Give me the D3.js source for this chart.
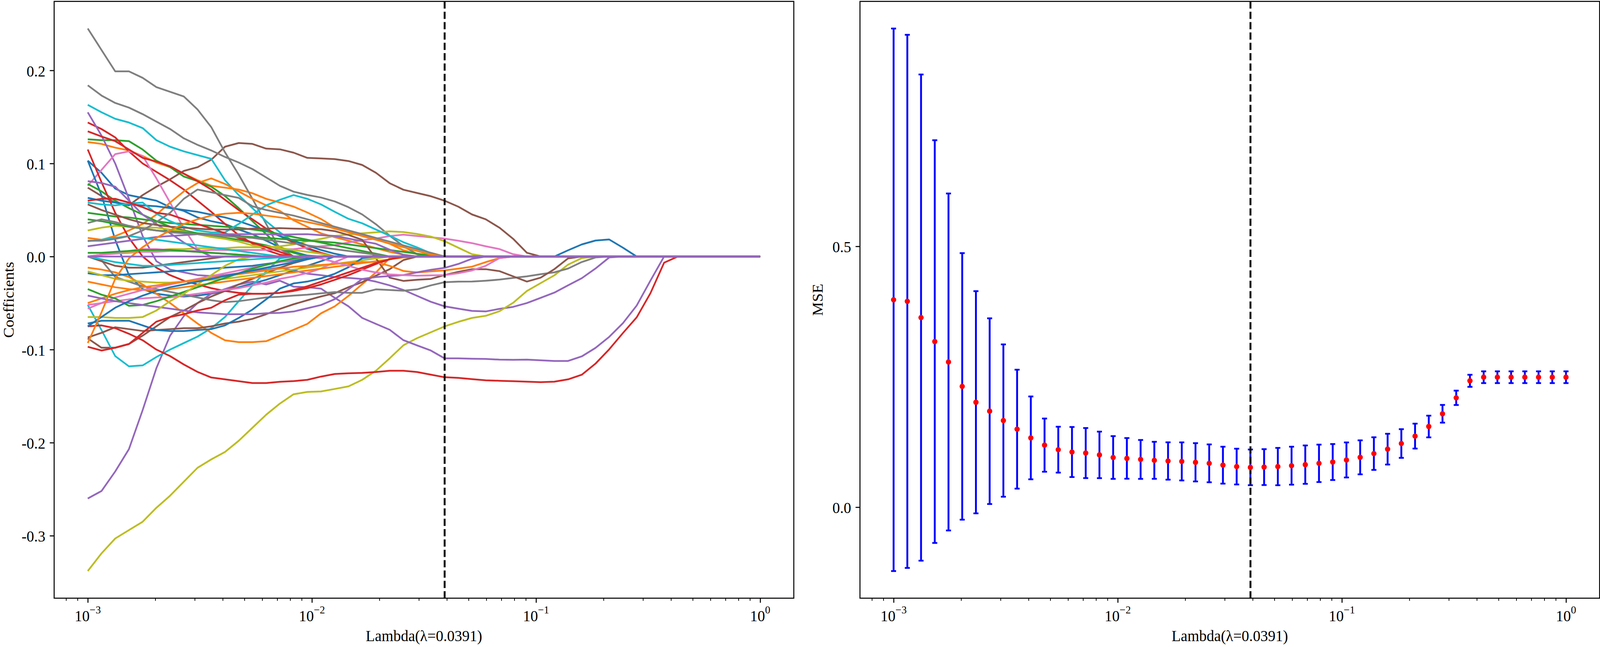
<!DOCTYPE html>
<html>
<head>
<meta charset="utf-8">
<script src="https://cdn.jsdelivr.net/npm/d3@7"></script>
<style>
  html, body { margin: 0; padding: 0; background: #fff; overflow: hidden; }
  svg { display: block; width: 100vw; height: 100vh; }
  text { font-family: "Liberation Serif", "Times New Roman", serif; fill: #000; }
</style>
</head>
<body>
<svg id="fig" viewBox="0 0 4255 1657" preserveAspectRatio="none"></svg>
<script>
// lambda grid used by the lasso path (50 log-spaced values)
const lambdas = [0.001, 0.0011514, 0.0013257, 0.0015264, 0.0017575, 0.0020236, 0.00233, 0.0026827, 0.0030888, 0.0035565,
  0.0040949, 0.0047149, 0.0054287, 0.0062506, 0.0071969, 0.0082864, 0.009541, 0.010985, 0.012649, 0.014563,
  0.016768, 0.019307, 0.02223, 0.025595, 0.029471, 0.033932, 0.039069, 0.044984, 0.051795, 0.059636,
  0.068665, 0.07906, 0.09103, 0.10481, 0.12068, 0.13895, 0.15999, 0.18421, 0.2121, 0.24421,
  0.28118, 0.32375, 0.37276, 0.42919, 0.49417, 0.56899, 0.65513, 0.75431, 0.86851, 1.0];
const lambdaBest = 0.0391;
const xLabelText = "Lambda(\u03bb=0.0391)";

// cross-validated MSE at each lambda, and half-length of its error bar
const mseMean = [0.3975, 0.3945, 0.3634, 0.3174, 0.2783, 0.2315, 0.2011, 0.184, 0.166, 0.1495,
  0.1328, 0.1189, 0.1102, 0.1057, 0.1037, 0.1002, 0.0952, 0.0935, 0.0915, 0.0898,
  0.0885, 0.0877, 0.086, 0.084, 0.0805, 0.0778, 0.0763, 0.0768, 0.0778, 0.0795,
  0.0815, 0.084, 0.0865, 0.0905, 0.0955, 0.1027, 0.1112, 0.122, 0.1362, 0.1546,
  0.179, 0.2096, 0.2422, 0.2491, 0.2491, 0.2491, 0.2491, 0.2491, 0.2491, 0.2491];
const mseStd = [0.520, 0.511, 0.466, 0.386, 0.323, 0.2555, 0.213, 0.178, 0.146, 0.114,
  0.0794, 0.051, 0.044, 0.048, 0.048, 0.0446, 0.041, 0.039, 0.0373, 0.0355,
  0.0358, 0.0365, 0.0367, 0.0363, 0.0354, 0.0343, 0.0342, 0.0344, 0.0358, 0.0364,
  0.0368, 0.0359, 0.0345, 0.0336, 0.0326, 0.0313, 0.0295, 0.0275, 0.0239, 0.0208,
  0.017, 0.0138, 0.0116, 0.0113, 0.0113, 0.0113, 0.0113, 0.0113, 0.0113, 0.0113];

// coefficient paths, in drawing order; values per lambda index, zero after the listed ones
const coefPaths = [
  [.103,.09,.073,.066,.063,.06,.053,.049,.042,.038,.035,.029,.024,.017,.01,.005,.001],
  [.123,.121,.117,.114,.108,.101,.096,.089,.082,.076,.074,.072,.068,.062,.058,.0536,.0473,.0403,.0312,.0277,.0235,.0186,.0137,.0067,.0025],
  [.126,.125,.125,.124,.115,.103,.096,.086,.081,.075,.065,.052,.038,.024,.01],
  [.144,.137,.128,.113,.1,.091,.082,.072,.06,.048,.035,.023,.014,.007,.002],
  [.155,.13,.1,.062,.022,-.005,-.014,-.017,-.02,-.021,-.02,-.018,-.016,-.014,-.012,-.015,-.0185,-.02,-.022,-.023,-.0241,-.027,-.031,-.0359,-.0423,-.0486,-.0535,-.056,-.0584,-.059,-.0562,-.0541,-.05,-.0444,-.0388,-.031,-.0233,-.0129,-.001],
  [.074,.065,.058,.055,.066,.075,.083,.092,.096,.104,.118,.122,.121,.116,.1152,.1116,.106,.1054,.1047,.1026,.0984,.09,.0788,.0718,.0683,.0648,.06,.0536,.0452,.04,.031,.019,.004],
  [.076,.093,.11,.113,.108,.084,.058,.03,.008],
  [.245,.222,.199,.199,.192,.182,.177,.172,.158,.139,.112,.088,.062,.035,.008],
  [-.338,-.319,-.303,-.294,-.285,-.27,-.257,-.242,-.227,-.218,-.21,-.198,-.184,-.17,-.158,-.148,-.1455,-.145,-.1423,-.1395,-.1325,-.1227,-.1094,-.0954,-.0877,-.0814,-.0751,-.0702,-.066,-.0637,-.0588,-.0497,-.037,-.0286,-.0202,-.0087,-.0017],
  [.163,.155,.148,.144,.138,.125,.118,.113,.109,.105,.082,.066,.052,.038,.026,.016,.008,.003],
  [.103,.066,.018,-.02,-.035,-.04,-.042,-.043,-.042,-.04,-.037,-.033,-.029,-.025,-.02,-.015,-.01,-.005],
  [.02,.018,.022,.028,.035,.045,.058,.07,.079,.084,.078,.07,.062,.055,.049,.0389,.0319,.0249,.0207,.017,.013,.009,.005,.002],
  [.078,.07,.06,.052,.045,.038,.032,.028,.025,.022,.02,.018,.015,.012,.008,.004],
  [.1345,.129,.124,.115,.106,.102,.097,.089,.081,.072,.061,.05,.04,.03,.022,.015,.009,.004],
  [-.26,-.252,-.231,-.207,-.165,-.12,-.085,-.064,-.05,-.04,-.035,-.03,-.027,-.03,-.026,-.0324,-.033,-.0345,-.0444,-.0535,-.066,-.0724,-.0787,-.0899,-.0955,-.101,-.1094,-.1094,-.1098,-.11,-.1108,-.111,-.1108,-.1115,-.1122,-.1122,-.1073,-.0982,-.0863,-.0716,-.0527,-.026],
  [-.088,-.098,-.098,-.094,-.085,-.075,-.065,-.058,-.05,-.043,-.037,-.03,-.024,-.018,-.012,-.007,-.003],
  [0,.002,.003,.004,.005,.005,.006,.006,.006,.007,.007,.007,.007,.007,.0074,.008,.0095,.011,.0123,.0151,.0175,.0193,.022,.0235,.022,.0207,.0193,.017,.0144,.011,.008,.0025],
  [.184,.173,.165,.16,.153,.145,.137,.127,.12,.114,.107,.101,.094,.085,.076,.0697,.0662,.0634,.0592,.053,.0452,.0347,.0224,.0112,.0025],
  [0,.002,.004,.005,.006,.007,.008,.008,.009,.009,.009,.01,.01,.01,.011,.013,.0165,.019,.0221,.0236,.025,.026,.0271,.0263,.0242,.0214,.0165,.0095,.0025],
  [-.052,-.079,-.107,-.118,-.117,-.108,-.1,-.093,-.086,-.077,-.065,-.048,-.031,-.016,-.002],
  [.063,.06,.058,.056,.055,.054,.052,.05,.048,.045,.042,.038,.033,.028,.022,.017,.012,.007,.003],
  [-.012,-.014,-.017,-.022,-.03,-.04,-.05,-.061,-.072,-.082,-.09,-.092,-.092,-.091,-.085,-.0787,-.0724,-.061,-.0535,-.0423,-.0297,-.0171,-.0017],
  [.047,.045,.043,.042,.04,.038,.036,.035,.034,.033,.032,.031,.029,.027,.024,.021,.018,.015,.012,.009,.006,.003],
  [.115,.08,.047,.02,0,-.012,-.02,-.026,-.03,-.034,-.037,-.039,-.04,-.04,-.039,-.037,-.034,-.03,-.025,-.02,-.014,-.008,-.003],
  [.081,.079,.075,.06,.045,.035,.025,.015,.007],
  [-.087,-.082,-.076,-.078,-.08,-.079,-.078,-.077,-.077,-.075,-.072,-.07,-.067,-.062,-.0563,-.0513,-.047,-.0429,-.0394,-.033,-.0275,-.0206,-.0136,-.0038],
  [-.052,-.05,-.048,-.046,-.045,-.044,-.044,-.042,-.04,-.038,-.036,-.034,-.031,-.028,-.024,-.0213,-.0178,-.0129,-.0059],
  [0,-.004,-.022,-.027,-.032,-.035,-.038,-.041,-.044,-.047,-.049,-.048,-.046,-.044,-.0432,-.042,-.041,-.0396,-.0382,-.039,-.039,-.0353,-.036,-.0367,-.0353,-.031,-.0276,-.027,-.0269,-.026,-.0248,-.023,-.0213,-.019,-.017,-.0129,-.0059,-.001],
  [.028,.031,.033,.032,.031,.031,.029,.027,.024,.021,.019,.016,.012,.011,.009,.007,.005,.003],
  [.058,.056,.055,.057,.058,.046,.038,.032,.028,.026,.026,.035,.045,.055,.061,.066,.062,.056,.048,.0405,.0357,.029,.0224,.0154,.0098,.0035],
  [-.018,-.02,-.02,-.019,-.018,-.017,-.016,-.015,-.014,-.013,-.012,-.011,-.01,-.008,-.006,-.004,-.002,0,0,0,0,0,0,0,0,0,0,0,0,0,0,0,0,0,0,.0067,.013,.0172,.0183,.0095],
  [-.027,-.03,-.033,-.035,-.036,-.036,-.035,-.033,-.031,-.029,-.027,-.025,-.023,-.021,-.019,-.017,-.015,-.013,-.011,-.009,-.007,-.005,-.003,-.001],
  [.04,.038,.035,.032,.03,.028,.027,.026,.025,.024,.023,.022,.021,.02,.019,.018,.017,.016,.015,.013,.011,.009,.007,.005,.003,.001],
  [.06,.062,.062,.058,.053,.047,.045,.04,.035,.03,.025,.02,.015,.01,.005],
  [.011,.013,.015,.017,.019,.021,.022,.023,.024,.024,.024,.024,.024,.024,.0235,.0238,.024,.023,.0221,.0193,.0165,.0137,.0074,.0018],
  [.056,.05,.045,.04,.036,.034,.032,.031,.03,.029,.029,.029,.03,.03,.0305,.03,.0297,.0294,.0273,.0231,.018,-.002,-.0227,-.0262,-.025,-.0241,-.0199,-.0165,-.0136,-.0136,-.0157,-.0213,-.0269,-.0227,-.0136,-.002],
  [-.056,-.05,-.044,-.04,-.036,-.033,-.03,-.027,-.024,-.021,-.018,-.015,-.012,-.009,-.006,-.003],
  [.036,.04,.037,.033,.03,.028,.026,.025,.024,.023,.022,.021,.02,.018,.016,.014,.012,.01,.008,.006,.004,.002],
  [-.016,-.02,-.024,-.026,-.027,-.028,-.028,-.027,-.026,-.025,-.024,-.022,-.02,-.018,-.016,-.014,-.012,-.01,-.008,-.006,-.004,-.002],
  [.0165,.018,.02,.022,.02,.018,.016,.014,.012,.01,.008,.006,.004,.002],
  [-.072,-.069,-.069,-.069,-.074,-.079,-.08,-.08,-.079,-.078,-.074,-.066,-.057,-.046,-.0345,-.0289,-.0269,-.0234,-.0185,-.0115,-.0017],
  [-.05,-.045,-.04,-.036,-.033,-.031,-.029,-.027,-.025,-.023,-.021,-.019,-.017,-.015,-.013,-.011,-.01,-.009,-.008,-.007,-.006,-.006,-.01,-.0155,-.0171,-.016,-.0149,-.013,-.0109,-.006,-.0017],
  [-.035,-.041,-.045,-.053,-.052,-.048,-.043,-.038,-.033,-.028,-.023,-.018,-.013,-.009,-.005,-.002],
  [-.075,-.074,-.077,-.083,-.09,-.1,-.107,-.116,-.124,-.13,-.132,-.134,-.136,-.136,-.1346,-.1339,-.1325,-.129,-.1262,-.1255,-.125,-.1241,-.1227,-.1227,-.1241,-.1269,-.1297,-.1304,-.1318,-.133,-.1335,-.134,-.1345,-.135,-.1345,-.132,-.127,-.1151,-.0997,-.0822,-.0654,-.0395,-.0066],
  [-.042,-.045,-.048,-.05,-.052,-.054,-.056,-.058,-.06,-.061,-.062,-.062,-.062,-.061,-.0605,-.0591,-.0556,-.0521,-.0458,-.0353,-.0241,-.022,-.021,-.0199,-.017,-.0143,-.0122,-.008,-.0024],
  [0,-.005,-.01,-.012,-.012,-.01,-.008,-.006,-.004,-.002],
  [0,.002,.004,.006,.008,.008,.007,.006,.005,.004,.003,.002,.001,0,0,0,0,-.002,-.006,-.01,-.0143,-.0171,-.0192,-.02,-.0206,-.0203,-.0199,-.018,-.015,-.01,-.0017],
  [.017,.017,.019,.022,.028,.037,.047,.062,.072,.069,.066,.063,.054,.05,.047,.044,.04,.036,.032,.028,.024,.02,.016,.012,.008,.004],
  [-.065,-.065,-.066,-.066,-.065,-.058,-.048,-.04,-.03,-.02,-.01,-.003],
  [0,-.003,-.006,-.008,-.01,-.01,-.009,-.008,-.007,-.006,-.005,-.004,-.003,-.002,-.001],
  [-.075,-.065,-.055,-.048,-.042,-.037,-.033,-.03,-.027,-.024,-.021,-.018,-.015,-.012,-.009,-.006,-.003],
  [-.093,-.06,-.024,-.002,.01,.02,.028,.035,.04,.044,.046,.047,.046,.044,.042,.04,.037,.034,.03,.026,.022,.018,.014,.01,.006,.002],
  [.004,.004,.005,.006,.007,.007,.007,.006,.005,.004,.003,.002,.001],
  [-.097,-.101,-.098,-.094,-.082,-.07,-.065,-.062,-.058,-.055,-.047,-.041,-.04,-.04,-.039,-.036,-.032,-.027,-.022,-.017,-.012,-.007,-.003],
  []
];

const coefTicks = [-0.3, -0.2, -0.1, 0.0, 0.1, 0.2];
const mseTicks = [0.0, 0.5];
const xMajor = [1e-3, 1e-2, 1e-1, 1];

// ---------- layout ----------
const svg = d3.select("#fig");
const pt = 240 / 72;              // px per point
const plotTop = 3.6, plotBottom = 1532;
const panels = { left: [144, 2111], right: [2287, 4254] };
const fontSize = 40;

// matplotlib-like 5% autoscale margins
function pad(lo, hi) { const m = (hi - lo) * 0.05; return [lo - m, hi + m]; }
const lx = d3.extent(lambdas).map(Math.log10);
const xd = pad(lx[0], lx[1]).map(e => Math.pow(10, e));

const allCoef = coefPaths.flat().concat([0]);
const yL = d3.scaleLinear().domain(pad(d3.min(allCoef), d3.max(allCoef))).range([plotBottom, plotTop]);
const yR = d3.scaleLinear()
  .domain(pad(d3.min(mseMean, (m, i) => m - mseStd[i]), d3.max(mseMean, (m, i) => m + mseStd[i])))
  .range([plotBottom, plotTop]);
const xL = d3.scaleLog().domain(xd).range(panels.left);
const xR = d3.scaleLog().domain(xd).range(panels.right);

const colors = d3.schemeCategory10;

function drawAxes(x, y, yTicks, yLabel, yLabelX) {
  const [x0, x1] = x.range();
  const g = svg.append("g");

  // minor x ticks
  const minor = x.ticks().filter(t => !xMajor.includes(t));
  g.append("g").attr("transform", `translate(0,${plotBottom})`)
    .call(d3.axisBottom(x).tickValues(minor).tickSize(2 * pt).tickFormat(""))
    .call(s => s.select(".domain").remove())
    .selectAll("line").attr("stroke-width", 0.6 * pt);

  // major x ticks
  g.append("g").attr("transform", `translate(0,${plotBottom})`)
    .call(d3.axisBottom(x).tickValues(xMajor).tickSize(3.5 * pt).tickFormat(""))
    .call(s => s.select(".domain").remove())
    .selectAll("line").attr("stroke-width", 0.8 * pt);

  // 10^k labels
  xMajor.forEach(t => {
    const e = Math.round(Math.log10(t));
    const txt = g.append("text")
      .attr("x", x(t)).attr("y", 1591)
      .attr("text-anchor", "middle")
      .style("font-size", fontSize + "px");
    txt.append("tspan").text("10");
    txt.append("tspan").attr("dy", -20).style("font-size", "28px")
      .text(e < 0 ? "\u2212" + (-e) : String(e));
  });

  // y ticks
  g.append("g").attr("transform", `translate(${x0},0)`)
    .call(d3.axisLeft(y).tickValues(yTicks).tickSize(3.5 * pt).tickPadding(3.5 * pt)
      .tickFormat(d => d.toFixed(1)))
    .call(s => s.select(".domain").remove())
    .call(s => s.selectAll("line").attr("stroke-width", 0.8 * pt))
    .call(s => s.selectAll("text").attr("dy", "0.375em")
      .style("font-size", fontSize + "px")
      .style("font-family", "'Liberation Serif', 'Times New Roman', serif"));

  // axis labels
  g.append("text")
    .attr("x", (x0 + x1) / 2).attr("y", 1642)
    .attr("text-anchor", "middle")
    .style("font-size", fontSize + "px")
    .text(xLabelText);
  g.append("text")
    .attr("transform", `translate(${yLabelX},${(plotTop + plotBottom) / 2}) rotate(-90)`)
    .attr("text-anchor", "middle")
    .style("font-size", fontSize + "px")
    .text(yLabel);
}

function drawVline(x) {
  svg.append("line")
    .attr("x1", x(lambdaBest)).attr("x2", x(lambdaBest))
    .attr("y1", plotTop).attr("y2", plotBottom)
    .attr("stroke", "#000").attr("stroke-width", 1.5 * pt)
    .attr("stroke-dasharray", `${3.7 * 1.5 * pt},${1.6 * 1.5 * pt}`);
}

function drawFrame(x) {
  const [x0, x1] = x.range();
  svg.append("rect")
    .attr("x", x0).attr("y", plotTop)
    .attr("width", x1 - x0).attr("height", plotBottom - plotTop)
    .attr("fill", "none").attr("stroke", "#000").attr("stroke-width", 0.8 * pt);
}

// ---------- left: coefficient paths ----------
const line = d3.line()
  .x((d, i) => xL(lambdas[i]))
  .y(d => yL(d));

svg.append("g")
  .selectAll("path")
  .data(coefPaths.map(p => lambdas.map((l, i) => (i < p.length ? p[i] : 0))))
  .join("path")
  .attr("d", line)
  .attr("fill", "none")
  .attr("stroke", (d, i) => colors[i % 10])
  .attr("stroke-width", 4.5)
  .attr("stroke-linejoin", "round");

drawVline(xL);
drawAxes(xL, yL, coefTicks, "Coefficients", 36);
drawFrame(xL);

// ---------- right: MSE with error bars ----------
const bars = svg.append("g");
const cap = 2 * pt;
lambdas.forEach((l, i) => {
  const cx = xR(l);
  const lo = yR(mseMean[i] - mseStd[i]);
  const hi = yR(mseMean[i] + mseStd[i]);
  bars.append("line").attr("x1", cx).attr("x2", cx).attr("y1", lo).attr("y2", hi)
    .attr("stroke", "#0000ff").attr("stroke-width", 1.5 * pt);
  [lo, hi].forEach(yy => bars.append("line")
    .attr("x1", cx - cap).attr("x2", cx + cap).attr("y1", yy).attr("y2", yy)
    .attr("stroke", "#0000ff").attr("stroke-width", 4.5));
});

drawVline(xR);

svg.append("g")
  .selectAll("circle")
  .data(mseMean)
  .join("circle")
  .attr("cx", (d, i) => xR(lambdas[i]))
  .attr("cy", d => yR(d))
  .attr("r", 7)
  .attr("fill", "#ff0000");

drawAxes(xR, yR, mseTicks, "MSE", 2188);
drawFrame(xR);
</script>
</body>
</html>
